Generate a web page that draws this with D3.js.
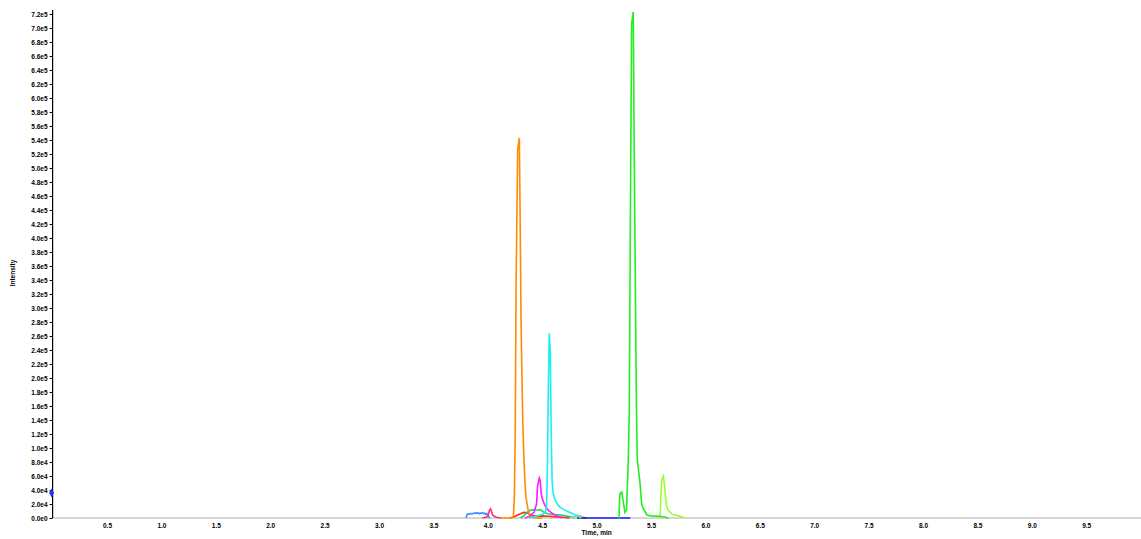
<!DOCTYPE html>
<html>
<head>
<meta charset="utf-8">
<script src="https://cdn.jsdelivr.net/npm/d3@7/dist/d3.min.js"></script>
<style>
  html, body { margin: 0; padding: 0; background: #fff; }
  svg { display: block; }
  text { font-family: "Liberation Sans", Arial, sans-serif; font-weight: bold; fill: #000; }
</style>
</head>
<body>
<script>
// ---------------- DATA ----------------
const xTickValues = [0.5,1.0,1.5,2.0,2.5,3.0,3.5,4.0,4.5,5.0,5.5,6.0,6.5,7.0,7.5,8.0,8.5,9.0,9.5];
const yTickValues = d3.range(0, 7.2e5 + 1, 2e4);
const xTitle = "Time, min";
const yTitle = "Intensity";
const axisMarkerValue = 3.6e4;

// traces: [time (min), intensity (cps)]
const traceDodger = [[3.80,0],[3.81,5000],[3.82,6000],[3.83,5500],[3.84,6500],[3.85,5800],[3.86,6200],[3.87,7000],[3.88,6500],[3.89,7200],[3.90,6800],[3.91,7500],[3.92,6000],[3.93,7000],[3.94,6500],[3.95,7800],[3.96,6200],[3.97,7000],[3.98,5500],[3.99,6500],[4.00,4000],[4.01,1500],[4.02,0]];
const tracePink = [[3.95,0],[3.99,1500],[4.005,5000],[4.015,11000],[4.025,13000],[4.035,9000],[4.045,4000],[4.06,2500],[4.08,1000],[4.12,0]];
const traceOrange = [[4.12,0],[4.22,0],[4.235,2000],[4.244,30000],[4.252,120000],[4.260,336000],[4.275,527000],[4.290,543000],[4.297,433000],[4.305,290000],[4.314,200000],[4.323,130000],[4.333,80000],[4.342,50000],[4.351,30000],[4.36,21000],[4.37,12000],[4.38,6000],[4.39,3000],[4.41,1000],[4.43,0],[4.50,0]];
const traceRed = [[4.20,0],[4.24,1500],[4.27,4000],[4.30,6000],[4.33,8000],[4.36,7500],[4.39,5000],[4.42,3000],[4.46,2500],[4.50,3000],[4.55,2500],[4.60,2000],[4.65,1500],[4.70,1000],[4.75,0]];
const traceSeaGreen = [[4.30,0],[4.33,3000],[4.36,8000],[4.39,11000],[4.42,12000],[4.45,11000],[4.48,12000],[4.51,9000],[4.55,6000],[4.60,5000],[4.65,4500],[4.70,3500],[4.75,2000],[4.80,0]];
const traceMagenta = [[4.342,0],[4.388,3000],[4.425,8000],[4.448,20000],[4.457,45000],[4.473,57000],[4.482,53000],[4.491,35000],[4.500,28000],[4.517,21000],[4.535,15000],[4.562,10000],[4.60,6000],[4.645,2000],[4.68,0]];
const traceCyan = [[4.38,0],[4.45,3000],[4.50,5000],[4.53,8000],[4.540,18000],[4.548,70000],[4.556,180000],[4.565,264000],[4.574,240000],[4.583,120000],[4.592,50000],[4.601,35000],[4.615,28000],[4.635,21000],[4.66,16000],[4.70,12000],[4.74,9000],[4.78,6000],[4.82,3000],[4.86,0]];
const traceGrey = [[4.76,0],[4.80,2000],[4.82,4000],[4.84,3500],[4.86,2500],[4.88,1000],[4.92,0]];
const traceBlack = [[4.82,0],[4.90,0]];
const traceBlue = [[4.88,0],[5.00,0],[5.10,0],[5.20,0],[5.31,0]];
const traceGreen = [[5.20,0],[5.206,0],[5.21,20000],[5.215,35000],[5.231,37000],[5.243,25000],[5.261,8000],[5.275,12000],[5.291,80000],[5.300,150000],[5.313,490000],[5.322,706000],[5.337,723000],[5.344,559000],[5.358,300000],[5.366,160000],[5.374,83000],[5.399,50000],[5.414,21000],[5.426,14000],[5.463,4300],[5.50,3000],[5.58,2500],[5.62,1500],[5.66,0]];
const traceLime = [[5.55,1000],[5.575,2000],[5.585,5000],[5.592,35000],[5.600,55000],[5.614,60000],[5.625,45000],[5.633,30000],[5.643,18000],[5.655,12000],[5.67,9000],[5.70,5000],[5.74,3500],[5.78,2000],[5.81,0]];

const series = [
  {data: traceDodger,   color: "#3b8cff"},
  {data: tracePink,     color: "#ff2d7a"},
  {data: traceRed,      color: "#ff2a1a"},
  {data: traceSeaGreen, color: "#19d66a"},
  {data: traceGrey,     color: "#b8b8b8"},
  {data: traceBlack,    color: "#303030"},
  {data: traceBlue,     color: "#1a1aff"},
  {data: traceOrange,   color: "#ff8c00"},
  {data: traceMagenta,  color: "#ff1aff"},
  {data: traceCyan,     color: "#19f0f0"},
  {data: traceLime,     color: "#99ff33"},
  {data: traceGreen,    color: "#22ee22"}
];

// ---------------- CHART ----------------
const W = 1141, H = 539;
const svg = d3.select("body").append("svg").attr("width", W).attr("height", H);

const x = d3.scaleLinear().domain([0, 10]).range([52.6, 1140.6]);
const y = d3.scaleLinear().domain([0, 7.2e5]).range([518, 14]);

// x axis line (light grey)
svg.append("line")
  .attr("x1", x(0)).attr("x2", W).attr("y1", y(0)).attr("y2", y(0))
  .attr("stroke", "#c8c8c8").attr("stroke-width", 1.5);

// x tick labels
const xAxis = d3.axisBottom(x).tickValues(xTickValues).tickSize(0).tickPadding(5)
  .tickFormat(d3.format(".1f"));
const gx = svg.append("g").attr("transform", `translate(0,${y(0)})`).call(xAxis);
gx.select(".domain").remove();
gx.selectAll("text").attr("font-size", 6.5).attr("font-family", "Liberation Sans, Arial, sans-serif").attr("font-weight", "bold");

// y axis
const yAxis = d3.axisLeft(y).tickValues(yTickValues).tickSize(3).tickPadding(2)
  .tickFormat(d => {
    if (d === 0) return "0.0e0";
    const e = Math.floor(Math.log10(d));
    return (d / Math.pow(10, e)).toFixed(1) + "e" + e;
  });
const gy = svg.append("g").attr("transform", `translate(${x(0)},0)`).call(yAxis);
gy.select(".domain").attr("stroke", "#000").attr("stroke-width", 1.2)
  .attr("d", `M0,${y(0)}V${y(7.2e5) - 4}`);
gy.selectAll(".tick line").attr("stroke", "#000");
gy.selectAll("text").attr("font-size", 6.5).attr("font-family", "Liberation Sans, Arial, sans-serif").attr("font-weight", "bold");

// axis titles
svg.append("text").attr("x", x(5.0)).attr("y", 535).attr("text-anchor", "middle")
  .attr("font-size", 6.5).text(xTitle);
svg.append("text").attr("transform", `translate(15,${y(3.5e5)}) rotate(-90)`)
  .attr("text-anchor", "middle").attr("font-size", 6.5).text(yTitle);

// traces
const line = d3.line().x(d => x(d[0])).y(d => y(d[1]));
svg.append("g").selectAll("path").data(series).join("path")
  .attr("d", d => line(d.data))
  .attr("fill", "none")
  .attr("stroke", d => d.color)
  .attr("stroke-width", 1.6)
  .attr("stroke-linejoin", "miter");

// blue marker on y axis
svg.append("path")
  .attr("d", d3.symbol(d3.symbolDiamond, 22)())
  .attr("transform", `translate(${x(0) - 1},${y(axisMarkerValue)})`)
  .attr("fill", "#2233ff");
</script>
</body>
</html>
